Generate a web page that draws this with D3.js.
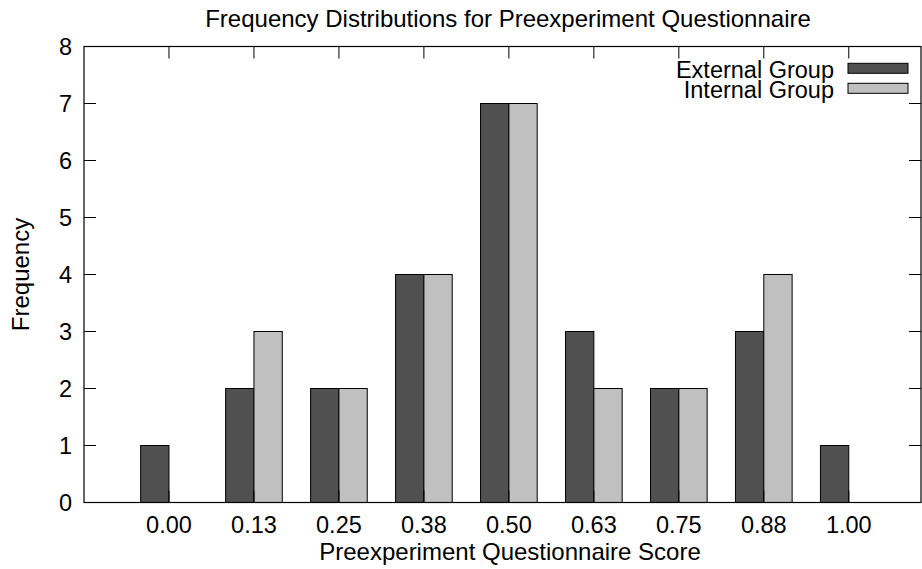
<!DOCTYPE html>
<html>
<head>
<meta charset="utf-8">
<script src="https://cdn.jsdelivr.net/npm/d3@7"></script>
<style>
  html, body { margin: 0; padding: 0; background: #fff; }
  svg text { font-family: "Liberation Sans", Arial, sans-serif; fill: #000; }
</style>
</head>
<body>
<div id="chart"></div>
<script>
// histogram of questionnaire scores, two groups side by side
const scores = ['0.00', '0.13', '0.25', '0.38', '0.50', '0.63', '0.75', '0.88', '1.00'];
const externalGroup = [1, 2, 2, 4, 7, 3, 2, 3, 1];
const internalGroup = [0, 3, 2, 4, 7, 2, 2, 4, 0];
const yTicks = [0, 1, 2, 3, 4, 5, 6, 7, 8];

const width = 922, height = 569;
const margin = { top: 46.5, right: 1, bottom: 66.5, left: 84 };
const fontSize = 23.5;
const titleSize = 24;

const svg = d3.select('#chart').append('svg')
  .attr('width', width)
  .attr('height', height)
  .attr('viewBox', [0, 0, width, height].join(' '));

const x = d3.scaleLinear()
  .domain([-1, 8.85])
  .range([margin.left, width - margin.right]);

const y = d3.scaleLinear()
  .domain([0, 8])
  .range([height - margin.bottom, margin.top]);

const barW = (x(1) - x(0)) / 3;

const series = [
  { name: 'External Group', values: externalGroup, color: '#505050', offset: -1 },
  { name: 'Internal Group', values: internalGroup, color: '#c0c0c0', offset: 0 }
];

// bars
series.forEach(s => {
  svg.append('g')
    .selectAll('rect')
    .data(s.values)
    .enter().append('rect')
      .attr('x', (d, i) => x(i) + s.offset * barW)
      .attr('y', d => y(d))
      .attr('width', barW)
      .attr('height', d => y(0) - y(d))
      .attr('fill', s.color)
      .attr('stroke', '#000')
      .attr('stroke-width', 1);
});

// frame
svg.append('rect')
  .attr('x', x(-1))
  .attr('y', y(8))
  .attr('width', x(8.85) - x(-1))
  .attr('height', y(0) - y(8))
  .attr('fill', 'none')
  .attr('stroke', '#000')
  .attr('stroke-width', 1.2);

// y ticks, left and mirrored right
const tickLen = 12;
const yt = svg.append('g').attr('stroke', '#000').attr('stroke-width', 1);
yTicks.forEach(t => {
  yt.append('line')
    .attr('x1', x(-1)).attr('x2', x(-1) + tickLen)
    .attr('y1', y(t)).attr('y2', y(t));
  yt.append('line')
    .attr('x1', x(8.85)).attr('x2', x(8.85) - tickLen)
    .attr('y1', y(t)).attr('y2', y(t));
});

svg.append('g')
  .selectAll('text')
  .data(yTicks)
  .enter().append('text')
    .attr('x', x(-1) - 12)
    .attr('y', d => y(d))
    .attr('dy', '0.36em')
    .attr('text-anchor', 'end')
    .attr('font-size', fontSize)
    .text(d => d);

// x ticks (top mirrored, bottom under the bars)
const xt = svg.append('g').attr('stroke', '#000').attr('stroke-width', 1);
scores.forEach((s, i) => {
  xt.append('line')
    .attr('x1', x(i)).attr('x2', x(i))
    .attr('y1', y(8)).attr('y2', y(8) + tickLen);
  xt.append('line')
    .attr('x1', x(i)).attr('x2', x(i))
    .attr('y1', y(0)).attr('y2', y(0) - tickLen);
});

svg.append('g')
  .selectAll('text')
  .data(scores)
  .enter().append('text')
    .attr('x', (d, i) => x(i))
    .attr('y', 532.5)
    .attr('text-anchor', 'middle')
    .attr('font-size', fontSize)
    .text(d => d);

// titles
svg.append('text')
  .attr('x', 508).attr('y', 27)
  .attr('text-anchor', 'middle')
  .attr('font-size', titleSize)
  .text('Frequency Distributions for Preexperiment Questionnaire');

svg.append('text')
  .attr('x', 510).attr('y', 560)
  .attr('text-anchor', 'middle')
  .attr('font-size', titleSize)
  .text('Preexperiment Questionnaire Score');

svg.append('text')
  .attr('transform', `translate(29,${(y(0) + y(8)) / 2}) rotate(-90)`)
  .attr('text-anchor', 'middle')
  .attr('font-size', titleSize)
  .text('Frequency');

// legend
const legend = svg.append('g');
series.forEach((s, i) => {
  const ly = 68.3 + i * 20;
  legend.append('text')
    .attr('x', 834).attr('y', ly + 9.5)
    .attr('text-anchor', 'end')
    .attr('font-size', fontSize)
    .text(s.name);
  legend.append('rect')
    .attr('x', 848).attr('y', ly - 5)
    .attr('width', 60).attr('height', 10)
    .attr('fill', s.color)
    .attr('stroke', '#000')
    .attr('stroke-width', 1);
});
</script>
</body>
</html>
